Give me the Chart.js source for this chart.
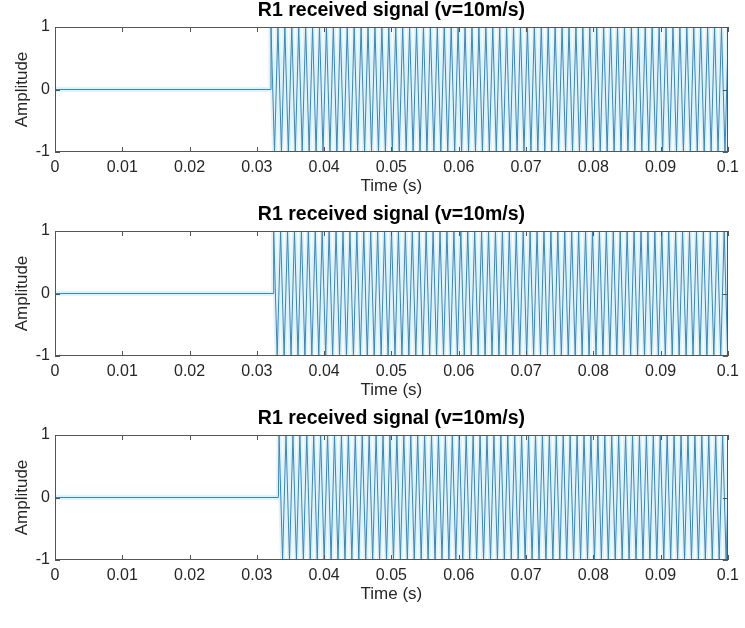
<!DOCTYPE html>
<html>
<head>
<meta charset="utf-8">
<script src="https://cdn.jsdelivr.net/npm/chart.js@4/dist/chart.umd.min.js"></script>
<style>
  body { margin: 0; background: #fff; }
  #wrap { position: relative; width: 745px; height: 628px; }
  .panel { position: absolute; left: 0; width: 745px; height: 197px; }
</style>
</head>
<body>
<div id="wrap">
  <div class="panel" style="top:0px"><canvas id="c1"></canvas></div>
  <div class="panel" style="top:204px"><canvas id="c2"></canvas></div>
  <div class="panel" style="top:408px"><canvas id="c3"></canvas></div>
</div>
<script>
// Labels and ticks
const titleText = 'R1 received signal (v=10m/s)';
const xLabel = 'Time (s)';
const yLabel = 'Amplitude';
const xTicks = [0, 0.01, 0.02, 0.03, 0.04, 0.05, 0.06, 0.07, 0.08, 0.09, 0.1];
const yTicks = [-1, 0, 1];

// Signal onset per panel (ms) - flat zero before it
const onsetMs = [32.0, 32.4, 33.2];

// Peak (+1) and trough (-1) times, in ms
const peaksMs1 = [32.10, 33.13, 34.16, 35.19, 36.22, 37.25, 38.28, 39.31, 40.34, 41.37, 42.40, 43.43, 44.46, 45.49, 46.52, 47.55, 48.58, 49.61, 50.64, 51.67, 52.70, 53.73, 54.76, 55.79, 56.82, 57.85, 58.88, 59.91, 60.94, 61.97, 63.00, 64.03, 65.06, 66.09, 67.12, 68.15, 69.18, 70.21, 71.24, 72.27, 73.30, 74.33, 75.36, 76.39, 77.42, 78.45, 79.48, 80.51, 81.54, 82.57, 83.60, 84.63, 85.66, 86.69, 87.72, 88.75, 89.78, 90.81, 91.84, 92.87, 93.90, 94.93, 95.96, 96.99, 98.02, 99.05, 100.08];
const troughsMs1 = [32.62, 33.65, 34.68, 35.71, 36.74, 37.77, 38.80, 39.83, 40.86, 41.89, 42.92, 43.95, 44.98, 46.01, 47.04, 48.07, 49.10, 50.13, 51.16, 52.19, 53.22, 54.25, 55.28, 56.31, 57.34, 58.37, 59.40, 60.43, 61.46, 62.49, 63.52, 64.55, 65.58, 66.61, 67.64, 68.67, 69.70, 70.73, 71.76, 72.79, 73.82, 74.85, 75.88, 76.91, 77.94, 78.97, 80.00, 81.03, 82.06, 83.09, 84.12, 85.15, 86.18, 87.21, 88.24, 89.27, 90.30, 91.33, 92.36, 93.39, 94.42, 95.45, 96.48, 97.51, 98.54, 99.57];

const peaksMs2 = [32.50, 33.53, 34.56, 35.59, 36.62, 37.65, 38.68, 39.71, 40.74, 41.77, 42.80, 43.83, 44.86, 45.89, 46.92, 47.95, 48.98, 50.01, 51.04, 52.07, 53.10, 54.13, 55.16, 56.19, 57.22, 58.25, 59.28, 60.31, 61.34, 62.37, 63.40, 64.43, 65.46, 66.49, 67.52, 68.55, 69.58, 70.61, 71.64, 72.67, 73.70, 74.73, 75.76, 76.79, 77.82, 78.85, 79.88, 80.91, 81.94, 82.97, 84.00, 85.03, 86.06, 87.09, 88.12, 89.15, 90.18, 91.21, 92.24, 93.27, 94.30, 95.33, 96.36, 97.39, 98.42, 99.45, 100.48];
const troughsMs2 = [33.02, 34.05, 35.08, 36.11, 37.14, 38.17, 39.20, 40.23, 41.26, 42.29, 43.32, 44.35, 45.38, 46.41, 47.44, 48.47, 49.50, 50.53, 51.56, 52.59, 53.62, 54.65, 55.68, 56.71, 57.74, 58.77, 59.80, 60.83, 61.86, 62.89, 63.92, 64.95, 65.98, 67.01, 68.04, 69.07, 70.10, 71.13, 72.16, 73.19, 74.22, 75.25, 76.28, 77.31, 78.34, 79.37, 80.40, 81.43, 82.46, 83.49, 84.52, 85.55, 86.58, 87.61, 88.64, 89.67, 90.70, 91.73, 92.76, 93.79, 94.82, 95.85, 96.88, 97.91, 98.94, 99.97];

const peaksMs3 = [33.30, 34.33, 35.36, 36.39, 37.42, 38.45, 39.48, 40.51, 41.54, 42.57, 43.60, 44.63, 45.66, 46.69, 47.72, 48.75, 49.78, 50.81, 51.84, 52.87, 53.90, 54.93, 55.96, 56.99, 58.02, 59.05, 60.08, 61.11, 62.14, 63.17, 64.20, 65.23, 66.26, 67.29, 68.32, 69.35, 70.38, 71.41, 72.44, 73.47, 74.50, 75.53, 76.56, 77.59, 78.62, 79.65, 80.68, 81.71, 82.74, 83.77, 84.80, 85.83, 86.86, 87.89, 88.92, 89.95, 90.98, 92.01, 93.04, 94.07, 95.10, 96.13, 97.16, 98.19, 99.22, 100.25];
const troughsMs3 = [33.82, 34.85, 35.88, 36.91, 37.94, 38.97, 40.00, 41.03, 42.06, 43.09, 44.12, 45.15, 46.18, 47.21, 48.24, 49.27, 50.30, 51.33, 52.36, 53.39, 54.42, 55.45, 56.48, 57.51, 58.54, 59.57, 60.60, 61.63, 62.66, 63.69, 64.72, 65.75, 66.78, 67.81, 68.84, 69.87, 70.90, 71.93, 72.96, 73.99, 75.02, 76.05, 77.08, 78.11, 79.14, 80.17, 81.20, 82.23, 83.26, 84.29, 85.32, 86.35, 87.38, 88.41, 89.44, 90.47, 91.50, 92.53, 93.56, 94.59, 95.62, 96.65, 97.68, 98.71, 99.74];

const lineColor = '#3a86ba';
const haloColor = 'rgba(185, 228, 245, 0.45)';
const axisColor = '#262626';
const fontFamily = '"Liberation Sans", Arial, Helvetica, sans-serif';

// turn the ms lists into x/y points (seconds)
function buildSignal(onset, peaks, troughs) {
    const pts = [{ x: 0, y: 0 }, { x: onset / 1000, y: 0 }];
    const ext = peaks.map(t => ({ x: t / 1000, y: 1 }))
        .concat(troughs.map(t => ({ x: t / 1000, y: -1 })));
    ext.sort((a, b) => a.x - b.x);
    return pts.concat(ext);
}

// MATLAB style box with inward ticks, plus the axes title centred on the plot
const boxTicks = {
    id: 'boxTicks',
    afterDatasetsDraw(chart) {
        const { ctx, chartArea: a, scales: { x, y } } = chart;
        ctx.save();
        ctx.strokeStyle = '#555555';
        ctx.lineWidth = 1;
        ctx.strokeRect(Math.round(a.left) + 0.5, Math.round(a.top) + 0.5,
            Math.round(a.right - a.left) - 1, Math.round(a.bottom - a.top) - 1);
        ctx.beginPath();
        x.ticks.forEach(t => {
            const px = Math.round(x.getPixelForValue(t.value)) + 0.5;
            ctx.moveTo(px, a.bottom); ctx.lineTo(px, a.bottom - 5);
            ctx.moveTo(px, a.top); ctx.lineTo(px, a.top + 5);
        });
        y.ticks.forEach(t => {
            const py = Math.round(y.getPixelForValue(t.value)) + 0.5;
            ctx.moveTo(a.left, py); ctx.lineTo(a.left + 5, py);
            ctx.moveTo(a.right, py); ctx.lineTo(a.right - 5, py);
        });
        ctx.stroke();

        ctx.fillStyle = '#000000';
        ctx.font = 'bold 19.5px ' + fontFamily;
        ctx.textAlign = 'center';
        ctx.textBaseline = 'middle';
        ctx.fillText(titleText, (a.left + a.right) / 2, a.top - 16);
        ctx.restore();
    }
};

function makePanel(id, points) {
    new Chart(document.getElementById(id).getContext('2d'), {
        type: 'line',
        data: {
            datasets: [{
                data: points,
                borderColor: lineColor,
                borderWidth: 1,
                pointRadius: 0,
                tension: 0,
                fill: false
            }, {
                data: points,
                borderColor: haloColor,
                borderWidth: 5,
                pointRadius: 0,
                tension: 0,
                fill: false
            }]
        },
        options: {
            responsive: true,
            maintainAspectRatio: false,
            animation: false,
            layout: { padding: { left: 0, right: 13, top: 27, bottom: 0 } },
            scales: {
                x: {
                    type: 'linear',
                    min: 0,
                    max: 0.1,
                    grid: { display: false, drawTicks: false },
                    border: { display: false },
                    afterBuildTicks: s => { s.ticks = xTicks.map(v => ({ value: v })); },
                    afterFit: s => { s.height = 45; },
                    ticks: {
                        color: axisColor,
                        padding: 6,
                        maxRotation: 0,
                        autoSkip: false,
                        font: { family: fontFamily, size: 16 },
                        callback: v => String(Number(v.toFixed(2)))
                    },
                    title: {
                        display: true,
                        text: xLabel,
                        color: axisColor,
                        padding: { top: 0, bottom: 0 },
                        font: { family: fontFamily, size: 17 }
                    }
                },
                y: {
                    min: -1,
                    max: 1,
                    grid: { display: false, drawTicks: false },
                    border: { display: false },
                    afterBuildTicks: s => { s.ticks = yTicks.map(v => ({ value: v })); },
                    afterFit: s => { s.width = 55; },
                    ticks: {
                        color: axisColor,
                        padding: 5,
                        font: { family: fontFamily, size: 16 }
                    },
                    title: {
                        display: true,
                        text: yLabel,
                        color: axisColor,
                        padding: { top: 12, bottom: 0 },
                        font: { family: fontFamily, size: 17 }
                    }
                }
            },
            plugins: {
                legend: { display: false },
                tooltip: { enabled: false },
                title: { display: false }
            }
        },
        plugins: [boxTicks]
    });
}

makePanel('c1', buildSignal(onsetMs[0], peaksMs1, troughsMs1));
makePanel('c2', buildSignal(onsetMs[1], peaksMs2, troughsMs2));
makePanel('c3', buildSignal(onsetMs[2], peaksMs3, troughsMs3));
</script>
</body>
</html>
